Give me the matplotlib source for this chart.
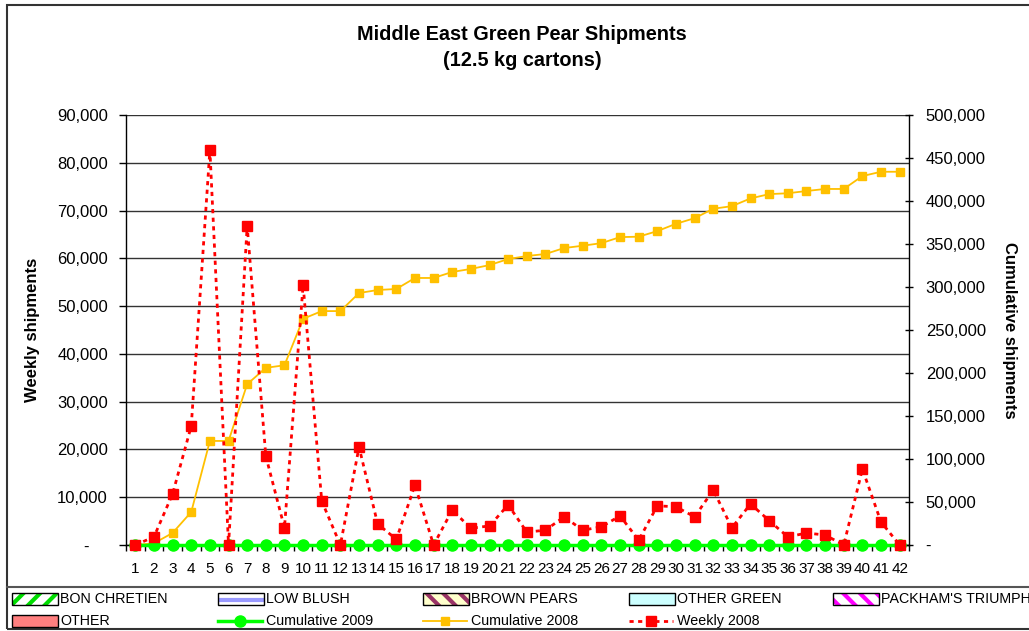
import matplotlib
matplotlib.use("Agg")
import matplotlib.pyplot as plt
from matplotlib.patches import Rectangle
from matplotlib.lines import Line2D
from matplotlib.ticker import FuncFormatter, MultipleLocator

plt.rcParams['font.family'] = ['Liberation Sans', 'DejaVu Sans']
plt.rcParams['hatch.linewidth'] = 3.0

# data
weeks = list(range(1, 43))
weekly_2008 = [0, 1700, 10700, 24900, 82700, 0, 66800, 18600, 3600, 54400,
               9200, 0, 20500, 4400, 1200, 12500, 0, 7300, 3500, 4000,
               8400, 2700, 3100, 5900, 3100, 3800, 6100, 1000, 8200, 8000,
               5900, 11500, 3600, 8600, 5100, 1700, 2500, 2100, 0, 15900,
               4800, 0]
cumulative_2008 = [0, 2000, 14000, 38400, 121000, 121000, 187000, 206000, 209000, 263000,
                   272000, 272000, 293000, 296500, 297700, 310500, 310500, 317500, 321000, 325500,
                   332500, 336000, 338400, 345300, 348000, 351000, 358000, 358500, 365000, 373500,
                   380000, 391000, 394000, 403000, 408000, 409000, 411600, 414000, 414000, 429000,
                   434000, 434000]
cumulative_2009 = [0] * 42

legend_labels = ["BON CHRETIEN", "LOW BLUSH", "BROWN PEARS", "OTHER GREEN",
                 "PACKHAM'S TRIUMPH", "OTHER"]

W, H = 1029, 631
fig = plt.figure(figsize=(W / 100, H / 100), dpi=100)

def fx(px):
    return px / W

def fy(py):
    return 1 - py / H

ax = fig.add_axes([fx(126), fy(545), fx(909 - 126), (545 - 115) / H])
ax2 = ax.twinx()

ax.set_xlim(0.5, 42.5)
ax.set_ylim(0, 90000)
ax2.set_ylim(0, 500000)

# cumulative on right axis; weekly drawn in ax2 but in left-axis units so it stays on top
ax2.plot(weeks, cumulative_2008, color="#FFC000", lw=1.3, marker="s",
         markersize=6, zorder=2, clip_on=False)
ax2.plot(weeks, cumulative_2009, color="#00FF00", lw=2.5, marker="o",
         markersize=8, zorder=3, clip_on=False)
ax2.plot(weeks, weekly_2008, transform=ax.transData,
         color="red", lw=2, linestyle=(0, (1.5, 1.6)), marker="s",
         markersize=6.5, zorder=4, clip_on=False)
ax2.set_ylim(0, 500000)

def acct(v, pos):
    if v == 0:
        return "-    "
    return "{:,.0f}".format(v)

def acct_r(v, pos):
    if v == 0:
        return "-"
    return "{:,.0f}".format(v)

ax.yaxis.set_major_locator(MultipleLocator(10000))
ax.yaxis.set_major_formatter(FuncFormatter(acct))
ax2.yaxis.set_major_locator(MultipleLocator(50000))
ax2.yaxis.set_major_formatter(FuncFormatter(acct_r))

ax.set_xticks(weeks)
ax.set_xticks([w + 0.5 for w in range(0, 43)], minor=True)
ax.tick_params(axis="x", which="major", length=0, pad=12, labelsize=11)
ax.tick_params(axis="x", which="minor", length=4, direction="out", width=1)
ax.tick_params(axis="y", length=5, width=1, pad=8, labelsize=12)
ax2.tick_params(axis="y", length=6, width=1, direction="inout", pad=9, labelsize=12)

ax.grid(axis="y", color="#333333", lw=1)
ax.set_axisbelow(True)
ax.spines["top"].set_visible(False)
ax2.spines["top"].set_visible(False)
ax2.spines["left"].set_visible(False)
ax.spines["right"].set_visible(False)
for sp in [ax.spines["left"], ax.spines["bottom"], ax2.spines["right"]]:
    sp.set_color("black")
    sp.set_linewidth(1)

fig.text(fx(522), fy(35), "Middle East Green Pear Shipments", ha="center",
         va="center", fontsize=14.3, fontweight="bold")
fig.text(fx(522), fy(60), "(12.5 kg cartons)", ha="center", va="center",
         fontsize=14.3, fontweight="bold")
fig.text(fx(33), fy(330), "Weekly shipments", rotation=90, ha="center",
         va="center", fontsize=12, fontweight="bold")
fig.text(fx(1010), fy(330), "Cumulative shipments", rotation=270, ha="center",
         va="center", fontsize=12, fontweight="bold")

# outer chart frame and legend box
fig.add_artist(Rectangle((fx(7), fy(629)), fx(1040), (629 - 5) / H,
                         transform=fig.transFigure, fill=False,
                         edgecolor="#333333", lw=1.5))
fig.add_artist(Line2D([fx(7), 1], [fy(587), fy(587)], transform=fig.transFigure,
                      color="#555555", lw=1.5))

# legend entries
patch_styles = [("white", "#00DD00", "//"), ("#9999FF", "white", "--"),
                ("#FFFFCC", "#993366", "\\\\"), ("#CCFFFF", None, None),
                ("white", "#FF00FF", "\\\\"), ("#FF8080", None, None)]
patch_pos = [(12, 599), (218, 599), (423, 599), (629, 599), (833, 599), (12, 621)]
for lab, (fc, hc, hatch), (x0, yc) in zip(legend_labels, patch_styles, patch_pos):
    fig.add_artist(Rectangle((fx(x0), fy(yc + 6)), fx(46), 12 / H,
                             transform=fig.transFigure, facecolor=fc,
                             edgecolor=hc if hc else fc, hatch=hatch, lw=0))
    fig.add_artist(Rectangle((fx(x0), fy(yc + 6)), fx(46), 12 / H,
                             transform=fig.transFigure, fill=False,
                             edgecolor="black", lw=1))
    fig.text(fx(x0 + 48), fy(yc), lab, ha="left", va="center", fontsize=10.3)

line_entries = [("Cumulative 2009", "#00FF00", "-", "o", 2.5, 8),
                ("Cumulative 2008", "#FFC000", "-", "s", 1.3, 6),
                ("Weekly 2008", "red", (0, (1.5, 1.6)), "s", 2, 6.5)]
line_x = [218, 423, 629]
for (lab, c, ls, mk, lw, ms), x0 in zip(line_entries, line_x):
    fig.add_artist(Line2D([fx(x0), fx(x0 + 44)], [fy(621), fy(621)],
                          transform=fig.transFigure, color=c, lw=lw, ls=ls))
    fig.add_artist(Line2D([fx(x0 + 22)], [fy(621)], transform=fig.transFigure,
                          color=c, marker=mk, markersize=ms, lw=0))
    fig.text(fx(x0 + 48), fy(621), lab, ha="left", va="center", fontsize=10.3)

fig.savefig("out.png", dpi=100)
